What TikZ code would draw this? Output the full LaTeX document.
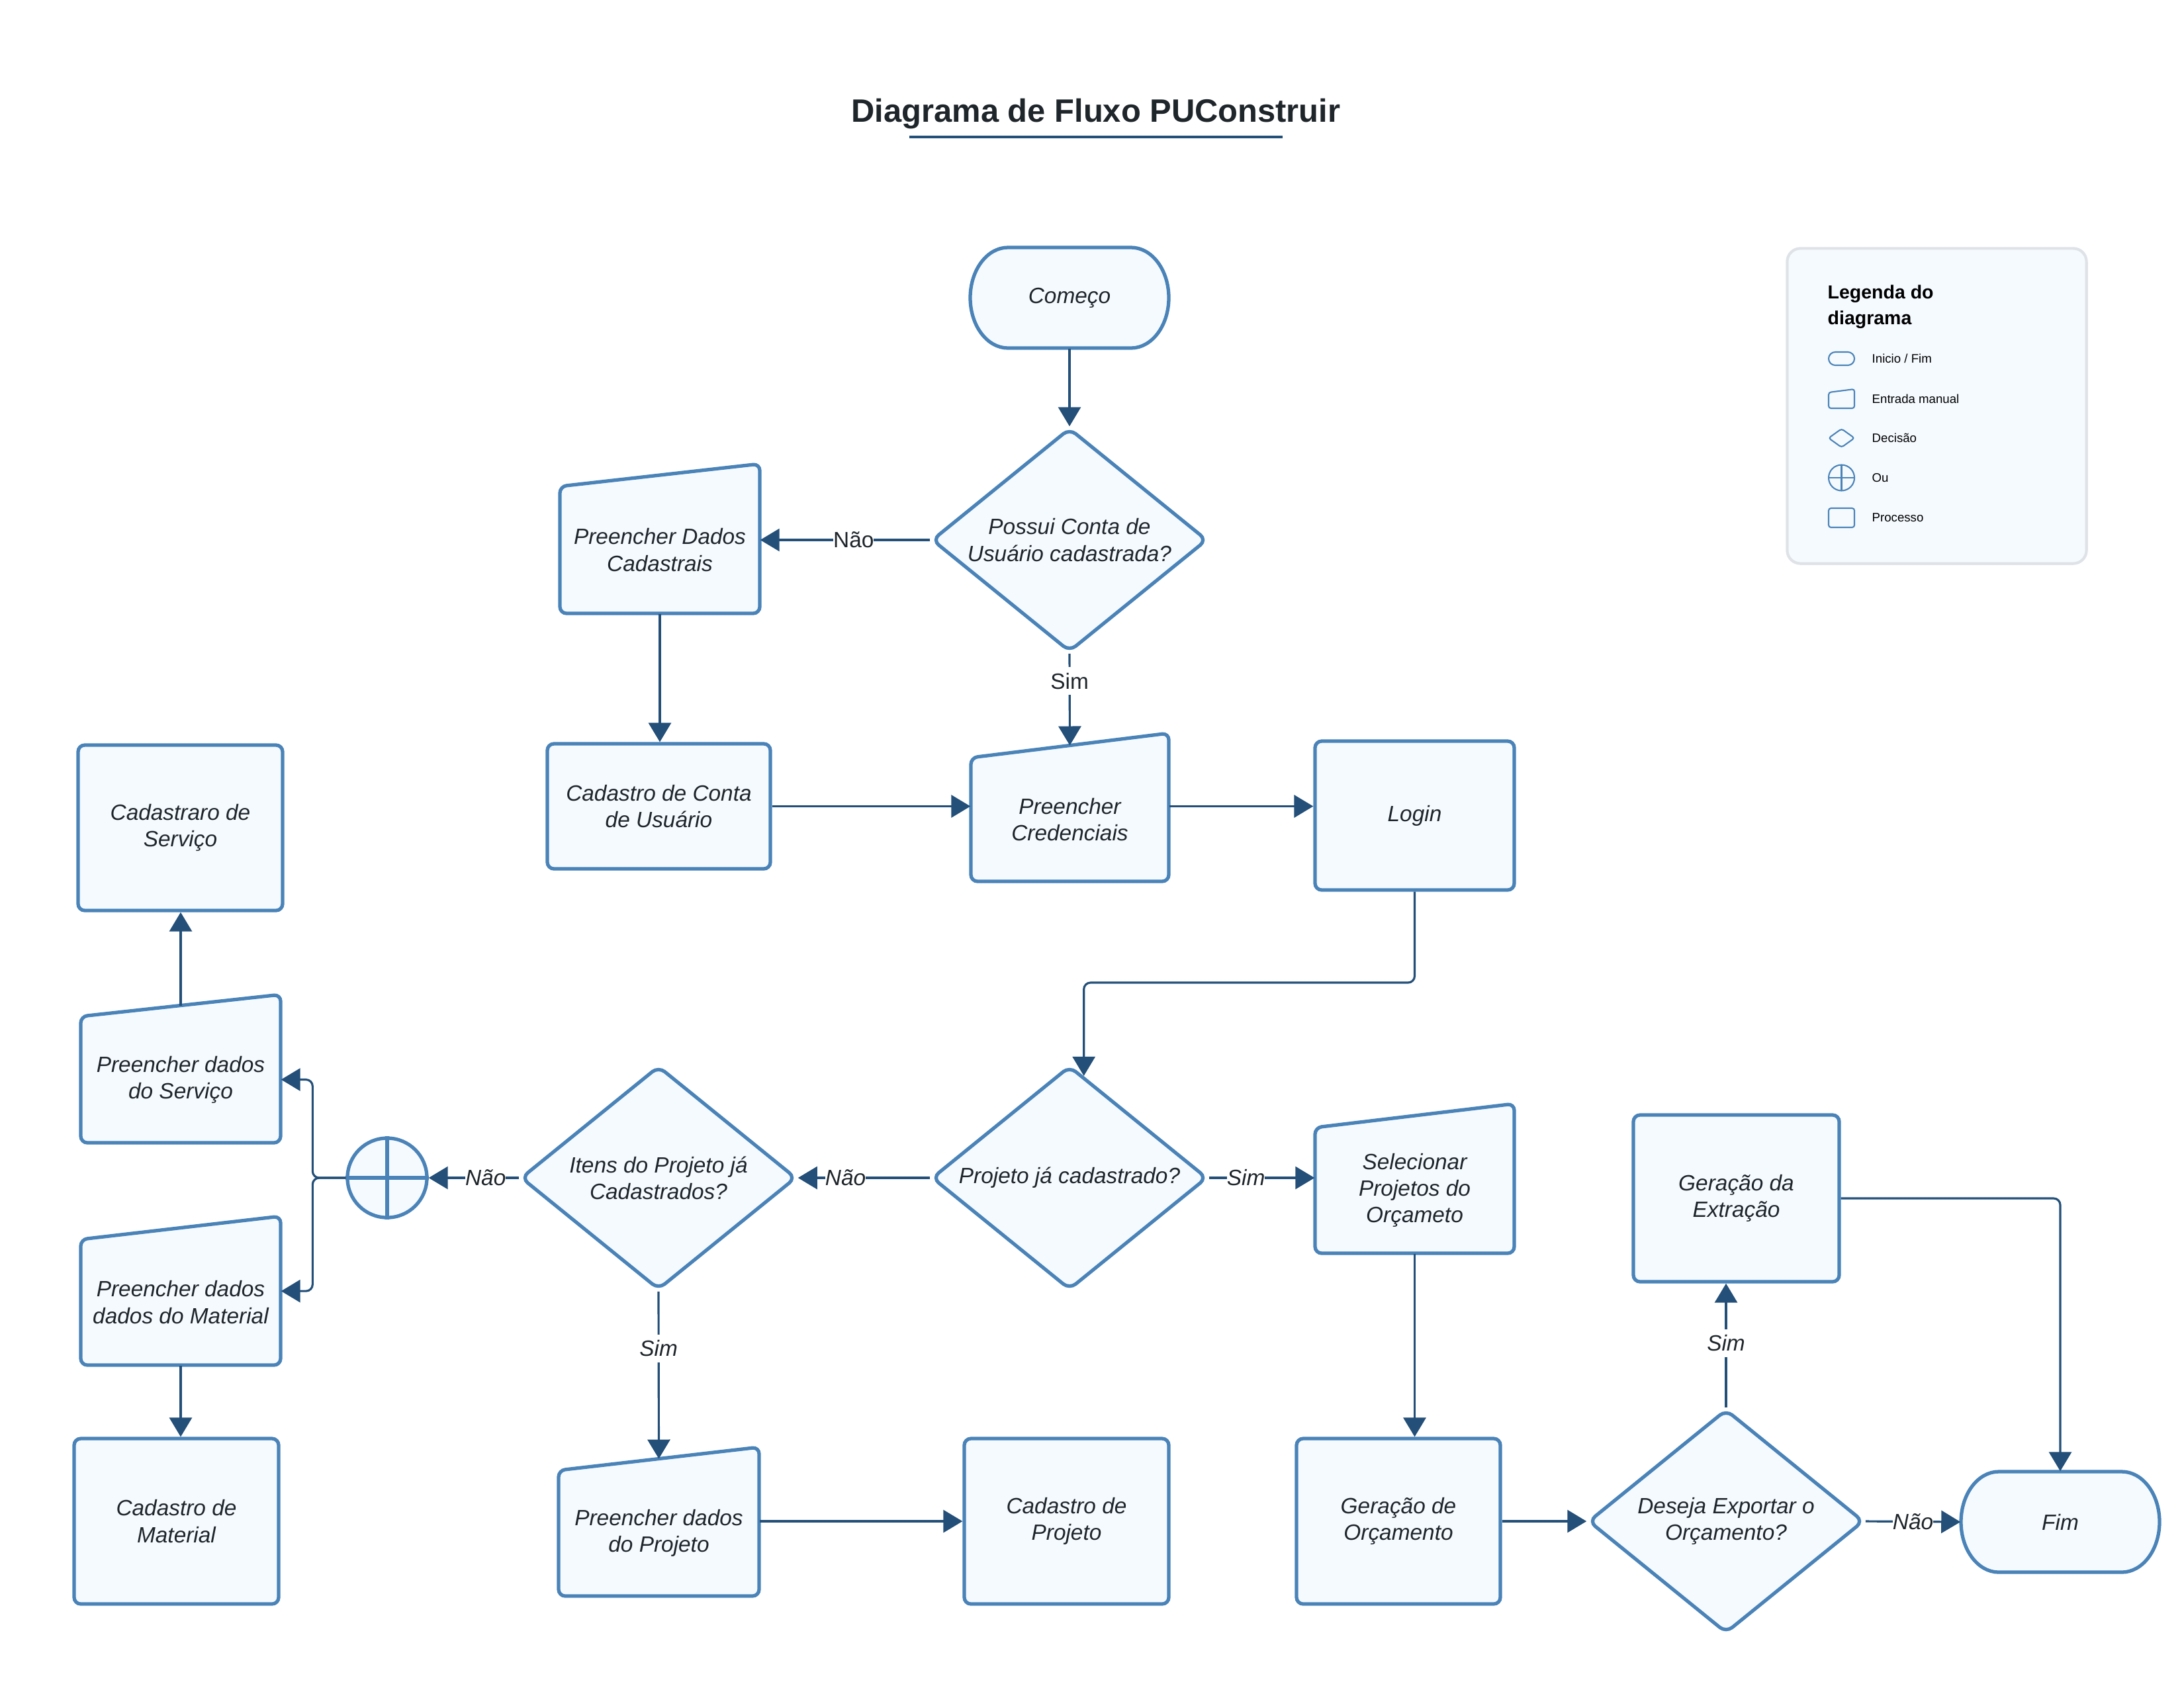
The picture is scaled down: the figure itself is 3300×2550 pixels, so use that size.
\documentclass[tikz,border=0pt]{standalone}
\usepackage{fontspec}
\setmainfont{Liberation Sans}
\usetikzlibrary{arrows.meta,shapes.geometric}

\definecolor{edgeblue}{HTML}{4A83B8}
\definecolor{paleblue}{HTML}{F5FAFF}
\definecolor{linknavy}{HTML}{234F78}
\definecolor{inkdark}{HTML}{1F262B}
\definecolor{legendgray}{HTML}{DFE3E8}

\tikzset{
  shapeline/.style={draw=edgeblue, fill=paleblue, line width=1.5pt, rounded corners=0.1cm},
  bodytext/.style={font=\itshape\fontsize{9.5}{11.4}\selectfont, text=inkdark, align=center, inner sep=0pt},
  textonly/.style={bodytext, shape=rectangle},
  proc/.style={shapeline, bodytext, shape=rectangle},
  decision/.style={shapeline, bodytext, shape=diamond, rounded corners=0.12cm,
    minimum width=4.16cm, minimum height=3.38cm, shape aspect=1.23},
  orgate/.style={draw=edgeblue, fill=paleblue, line width=1.5pt, circle, minimum size=1.2cm, inner sep=0pt},
  crossline/.style={draw=edgeblue, line width=1.5pt},
  conn/.style={draw=linknavy, line width=0.9pt, -{Triangle[length=0.29cm,width=0.34cm]}},
  lbl/.style={fill=white, text=inkdark, font=\fontsize{9.5}{11.4}\selectfont, inner xsep=0pt, inner ysep=2.5pt},
  lbli/.style={lbl, font=\itshape\fontsize{9.5}{11.4}\selectfont},
  legendicon/.style={draw=edgeblue, line width=0.6pt},
  legendtext/.style={font=\fontsize{5.3}{6.5}\selectfont, text=black, inner sep=0pt, anchor=west},
}

% start / end shape: straight top and bottom, half-elliptic sides
\newcommand\termnode[4]{%
  \draw[shapeline, rounded corners=0pt] ({#2-150+57},{#3-76}) -- ({#2+150-57},{#3-76})
    arc[start angle=-90, end angle=90, x radius=57, y radius=76]
    -- ({#2-150+57},{#3+76})
    arc[start angle=90, end angle=270, x radius=57, y radius=76] -- cycle;
  \node[textonly, minimum width=3cm, minimum height=1.52cm] (#1) at (#2,#3) {#4};}

% manual input: name, left x, right x, top-right y, top-left y, bottom y, text
\newcommand\manualnode[7]{%
  \draw[shapeline] (#2,#5) -- (#3,#4) -- (#3,#6) -- (#2,#6) -- cycle;
  \node[textonly, minimum width={(#3-#2)*0.01cm}, minimum height={(#6-#5)*0.01cm}]
    (#1) at ({(#2+#3)/2},{(#5+#6)/2}) {#7};
  \coordinate (#1-top) at ({(#2+#3)/2},{(#4+#5)/2});}

% process box: name, x1, y1, x2, y2, text
\newcommand\procnode[6]{%
  \node[proc, minimum width={(#4-#2)*0.01cm}, minimum height={(#5-#3)*0.01cm}]
    (#1) at ({(#2+#4)/2},{(#3+#5)/2}) {#6};}

\begin{document}
\begin{tikzpicture}[x=0.01cm, y=-0.01cm]
\fill[white] (0,0) rectangle (3300,2550);
\useasboundingbox (0,0) rectangle (3300,2550);

% title
\node[anchor=base, font=\bfseries\fontsize{13.9}{16}\selectfont, text=inkdark, inner sep=0pt]
  (TITLE) at (1656,184) {Diagrama de Fluxo PUConstruir};
\draw[draw=linknavy, line width=1.15pt] (1374,207) -- (1938,207);

% legend
\node[draw=legendgray, fill=paleblue, line width=1.2pt, rounded corners=0.2cm,
  minimum width=4.52cm, minimum height=4.76cm] (LEG) at (2926.5,613.5) {};
\node[anchor=north west, align=left, font=\bfseries\fontsize{8.1}{11.1}\selectfont, text=black, inner sep=0pt]
  (LEGT) at (2761,430) {Legenda do\\diagrama};
\draw[legendicon, rounded corners=0.1cm] (2763,532) rectangle (2802,552);
\draw[legendicon, rounded corners=1pt] (2763,593) -- (2802,588) -- (2802,617) -- (2763,617) -- cycle;
\draw[legendicon, rounded corners=1pt] (2763,662) -- (2782.5,648) -- (2802,662) -- (2782.5,676) -- cycle;
\draw[legendicon] (2782.5,722) circle[radius=19.5];
\draw[legendicon] (2782.5,702.5) -- (2782.5,741.5) (2763,722) -- (2802,722);
\draw[legendicon, rounded corners=1pt] (2763,768) rectangle (2802,797);
\node[legendtext] (LG1) at (2828,542) {Inicio / Fim};
\node[legendtext] (LG2) at (2828,603) {Entrada manual};
\node[legendtext] (LG3) at (2828,662) {Decisão};
\node[legendtext] (LG4) at (2828,722) {Ou};
\node[legendtext] (LG5) at (2828,782) {Processo};

% flow nodes
\termnode{BEGIN}{1616}{450}{Começo}
\node[decision] (D1) at (1616,816) {Possui Conta de\\Usuário cadastrada?};
\manualnode{PDC}{846}{1148}{701}{735}{927}{Preencher Dados\\Cadastrais}
\procnode{CCU}{827}{1124}{1164}{1313}{Cadastro de Conta\\de Usuário}
\manualnode{PC}{1467}{1766}{1108}{1145}{1332}{Preencher\\Credenciais}
\procnode{LOGIN}{1987}{1120}{2288}{1345}{Login}

\procnode{CS}{118}{1126}{427}{1376}{Cadastraro de\\Serviço}
\manualnode{PS}{122}{424}{1503}{1536}{1727}{Preencher dados\\do Serviço}
\node[orgate] (OU) at (585,1780) {};
\draw[crossline] (OU.north) -- (OU.south) (OU.west) -- (OU.east);
\manualnode{PM}{122}{424}{1838}{1873}{2063}{Preencher dados\\dados do Material}
\procnode{CM}{112}{2174}{421}{2424}{Cadastro de\\Material}

\node[decision] (D4) at (995,1780) {Itens do Projeto já\\Cadastrados?};
\node[decision] (D2) at (1616,1780) {Projeto já cadastrado?};
\manualnode{SP}{1987}{2288}{1668}{1704}{1894}{Selecionar\\Projetos do\\Orçameto}
\manualnode{PP}{844}{1147}{2187}{2222}{2412}{Preencher dados\\do Projeto}
\procnode{CP}{1457}{2174}{1766}{2424}{Cadastro de\\Projeto}
\procnode{GO}{1959}{2174}{2267}{2424}{Geração de\\Orçamento}
\node[decision] (D3) at (2608,2299) {Deseja Exportar o\\Orçamento?};
\termnode{FIM}{3113}{2300}{Fim}
\procnode{GE}{2468}{1685}{2779}{1937}{Geração da\\Extração}

% connectors
\draw[conn] (BEGIN.south) -- (D1.north);
\draw[conn] (D1.west) -- node[lbl, pos=0.45] {Não} (D1.west -| PDC.east);
\draw[conn] (D1.south) -- node[lbl, pos=0.3] {Sim} (PC-top);
\draw[conn] (PDC.south) -- (PDC.south |- CCU.north);
\draw[conn] (CCU.east) -- (CCU.east -| PC.west);
\draw[conn] (CCU.east -| PC.east) -- (CCU.east -| LOGIN.west);
\draw[conn, rounded corners=0.1cm] (LOGIN.south) -- (LOGIN.south |- 0,1485) -| (D2.82.4);
\draw[conn] (D2.east) -- node[lbli, pos=0.35] {Sim} (D2.east -| SP.west);
\draw[conn] (D2.west) -- node[lbli, pos=0.64] {Não} (D4.east);
\draw[conn] (D4.west) -- node[lbli, pos=0.37] {Não} (OU.east);
\draw[conn, rounded corners=0.1cm] (OU.west) -- ++(-50,0) |- (PS.east);
\draw[conn, rounded corners=0.1cm] (OU.west) -- ++(-50,0) |- ([yshift=4.8pt]PM.east);
\draw[conn] (PS-top) -- (PS-top |- CS.south);
\draw[conn] (PM.south) -- (PM.south |- CM.north);
\draw[conn] (D4.south) -- node[lbli, pos=0.34] {Sim} (PP-top);
\draw[conn] (CP.west -| PP.east) -- (CP.west);
\draw[conn] (SP.south) -- (SP.south |- GO.north);
\draw[conn] (GO.east) -- (D3.west);
\draw[conn] (D3.north) -- node[lbli, pos=0.52] {Sim} (D3.north |- GE.south);
\draw[conn] (D3.east) -- node[lbli, pos=0.5] {Não} (FIM.west);
\draw[conn, rounded corners=0.1cm] (GE.east) -| (FIM.north);
\end{tikzpicture}
\end{document}
